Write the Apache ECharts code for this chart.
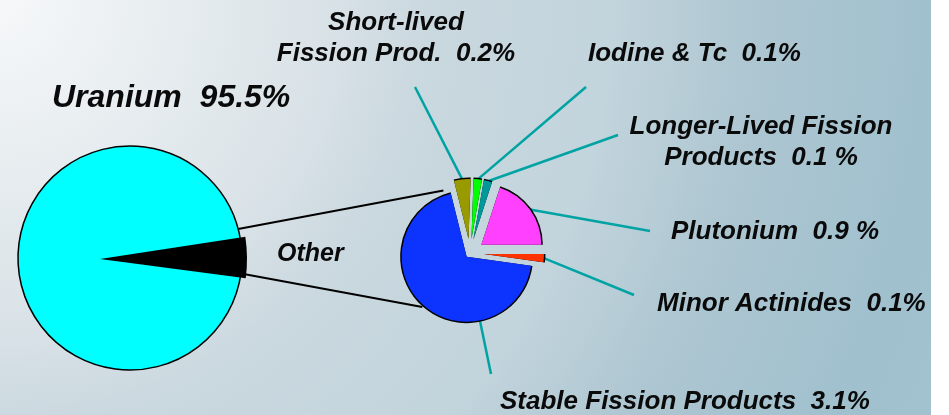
<!DOCTYPE html>
<html>
<head>
<meta charset="utf-8">
<title>Spent fuel composition</title>
<script src="https://cdn.jsdelivr.net/npm/echarts@6.0.0/dist/echarts.min.js"></script>
<style>
  html, body { margin: 0; padding: 0; background: #fff; }
  #main { width: 931px; height: 415px; }
</style>
</head>
<body>
<div id="main"></div>
<script>
// main pie
var mainNames = ['Uranium', 'Other'];
var mainValues = [95.5, 4.5];
var mainColors = ['#00ffff', '#000000'];

// what "Other" is made of (clockwise from the top)
var otherNames = [
  'Short-lived\nFission Prod.',
  'Iodine & Tc',
  'Longer-Lived Fission\nProducts',
  'Plutonium',
  'Minor Actinides',
  'Stable Fission Products'
];
var otherValues = [0.2, 0.1, 0.1, 0.9, 0.1, 3.1];
var otherUnits = ['%', '%', ' %', ' %', '%', '%'];
var otherColors = ['#999900', '#00ff00', '#009999', '#ff40ff', '#ff3300', '#0d33ff'];

// layout
var bigCenter = [130, 258], bigR = 112;
var wedgeCenter = [100, 259], wedgeR = 147;
var smallCenter = [470, 253];
var startAng = -7.5;
var smallStart = 104;
// how far each slice of the small pie is pulled out, and its radius
var sliceOffset = [14, 14, 14, 14, 14, 5];
var sliceR = [60, 60, 60, 60, 60, 65];
var mainLabelPos = [[52, 98, 'left'], [277, 254, 'left']];
var otherLabelPos = [
  [396, 38, 'center'],
  [588, 54, 'left'],
  [761, 142, 'center'],
  [671, 232, 'left'],
  [657, 304, 'left'],
  [500, 402, 'left']
];
// where each leader line stops, short of its label
var otherLineEnds = [[415, 87], [586, 87], [618, 135], [650, 231], [634, 295], [491, 374]];

var font = {
  fontFamily: '"Liberation Sans", Arial, sans-serif',
  fontWeight: 'bold',
  fontStyle: 'italic',
  color: '#0a0a0a'
};

// lines joining the big pie to the small one: [angle on big, angle on small, radius on small]
var joins = [[15, 113, 68], [-8, -131.5, 72]];
function polar(c, r, deg) {
  var a = deg * Math.PI / 180;
  return [c[0] + r * Math.cos(a), c[1] - r * Math.sin(a)];
}

// slice angles of the small pie, same as the pie layout computes them
var total = otherValues.reduce(function (s, v) { return s + v; }, 0);
var acc = 0;
var sliceAngles = otherValues.map(function (v) {
  var a0 = smallStart - acc / total * 360;
  acc += v;
  return [a0, smallStart - acc / total * 360];
});

function leaderLine(i) {
  var s = sliceAngles[i], e = otherLineEnds[i];
  var mid = (s[0] + s[1]) / 2;
  var c = polar(smallCenter, sliceOffset[i], mid);
  // narrow slices: from the middle of the arc; the wide one: towards the label
  var ang = (s[0] - s[1]) < 180 ? mid
    : Math.atan2(-(e[1] - c[1]), e[0] - c[0]) * 180 / Math.PI;
  return [polar(c, sliceR[i], ang), e];
}

// one pie series per pull-out distance, with a black rim under the colour
function smallPie(offset, rim) {
  var r = 0;
  var data = otherValues.map(function (v, i) {
    var inGroup = sliceOffset[i] === offset;
    if (inGroup) r = sliceR[i];
    return {
      name: otherNames[i], value: v, selected: inGroup,
      itemStyle: { color: inGroup ? (rim ? '#000' : otherColors[i]) : 'rgba(0,0,0,0)' }
    };
  });
  return {
    type: 'pie', z: rim ? 2 : 3,
    center: smallCenter, radius: rim ? r + 1.5 : r,
    startAngle: smallStart,
    selectedMode: 'multiple', selectedOffset: offset,
    emphasis: { disabled: true },
    label: { show: false }, labelLine: { show: false },
    data: data
  };
}

var offsets = sliceOffset.filter(function (o, i) { return sliceOffset.indexOf(o) === i; });
var smallSeries = [];
offsets.forEach(function (o) {
  smallSeries.push(smallPie(o, true), smallPie(o, false));
});

var chart = echarts.init(document.getElementById('main'));

var option = {
  animation: false,
  backgroundColor: {
    type: 'radial', x: 0, y: 0, r: 1020, global: true,
    colorStops: [
      { offset: 0, color: '#f6f8f9' },
      { offset: 0.32, color: '#d9e2e7' },
      { offset: 0.42, color: '#cad8df' },
      { offset: 0.6, color: '#c2d4dc' },
      { offset: 0.74, color: '#adc6d1' },
      { offset: 0.92, color: '#a0c0ce' },
      { offset: 1, color: '#a2c2d0' }
    ]
  },
  graphic: joins.map(function (j) {
    var p1 = polar(bigCenter, bigR, j[0]);
    var p2 = polar(smallCenter, j[2], j[1]);
    return {
      type: 'line', z: 1,
      shape: { x1: p1[0], y1: p1[1], x2: p2[0], y2: p2[1] },
      style: { stroke: '#000', lineWidth: 2 }
    };
  }),
  series: [
    {
      // the big circle
      type: 'pie', z: 2,
      center: bigCenter, radius: bigR,
      startAngle: startAng,
      avoidLabelOverlap: false,
      emphasis: { disabled: true },
      itemStyle: { color: mainColors[0], borderColor: '#000', borderWidth: 1.5 },
      label: Object.assign({
        show: true,
        formatter: function (p) {
          return p.dataIndex === 0 ? mainNames[0] + '  ' + mainValues[0] + '%' : '';
        },
        fontSize: 32
      }, font),
      labelLine: { show: false },
      labelLayout: function () {
        var q = mainLabelPos[0];
        return { x: q[0], y: q[1], align: q[2], verticalAlign: 'middle' };
      },
      data: mainValues.map(function (v, i) { return { name: mainNames[i], value: v }; })
    },
    {
      // the black "Other" wedge
      type: 'pie', z: 3,
      center: wedgeCenter, radius: wedgeR,
      startAngle: startAng,
      avoidLabelOverlap: false,
      emphasis: { disabled: true },
      label: Object.assign({
        show: true,
        formatter: function (p) { return p.dataIndex === 1 ? mainNames[1] : ''; },
        fontSize: 25
      }, font),
      labelLine: { show: false },
      labelLayout: function () {
        var q = mainLabelPos[1];
        return { x: q[0], y: q[1], align: q[2], verticalAlign: 'middle' };
      },
      data: mainValues.map(function (v, i) {
        return { name: mainNames[i], value: v, itemStyle: { color: i === 1 ? mainColors[1] : 'rgba(0,0,0,0)' } };
      })
    },
    {
      // labels and leader lines of the small pie
      type: 'pie', z: 1,
      center: smallCenter, radius: 60,
      startAngle: smallStart,
      avoidLabelOverlap: false,
      emphasis: { disabled: true },
      itemStyle: { color: 'rgba(0,0,0,0)' },
      label: Object.assign({
        show: true,
        formatter: function (p) {
          var i = p.dataIndex;
          return otherNames[i] + '  ' + otherValues[i] + otherUnits[i];
        },
        fontSize: 26,
        lineHeight: 31,
        align: 'center'
      }, font),
      labelLine: {
        show: true, length: 0, length2: 0,
        lineStyle: { color: '#00a3a3', width: 2.5 }
      },
      labelLayout: function (p) {
        var q = otherLabelPos[p.dataIndex];
        return {
          x: q[0], y: q[1], align: q[2], verticalAlign: 'middle',
          labelLinePoints: leaderLine(p.dataIndex)
        };
      },
      data: otherValues.map(function (v, i) { return { name: otherNames[i], value: v }; })
    }
  ].concat(smallSeries)
};

chart.setOption(option);
</script>
</body>
</html>
